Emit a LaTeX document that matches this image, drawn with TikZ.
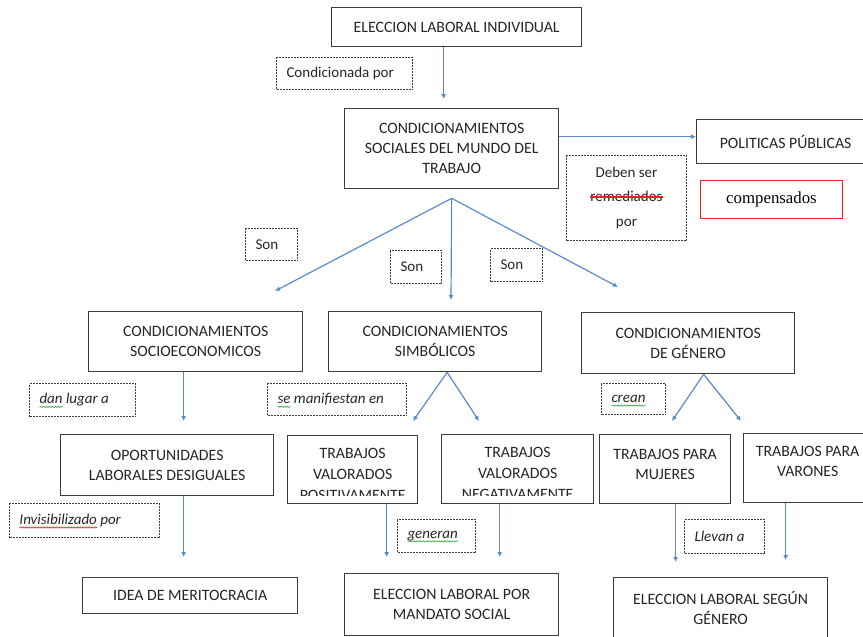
\documentclass[tikz,border=0pt]{standalone}
\usepackage{fontspec}
\setmainfont{Carlito}
\newfontfamily\serifa{Liberation Serif}
\usepackage{xcolor}
\usetikzlibrary{arrows.meta, positioning, decorations.pathmorphing}
\definecolor{Tinta}{HTML}{262626}
\definecolor{Trazo}{HTML}{3C3C3C}
\definecolor{Azul}{HTML}{5B8ACB}
\definecolor{Rojo}{HTML}{F01E1E}
\definecolor{Verde}{HTML}{3DAA4A}
\newsavebox{\palabra}
\newcommand{\tachado}[1]{\sbox{\palabra}{#1}\usebox{\palabra}\llap{\textcolor{Rojo}{\rule[0.27em]{\wd\palabra}{1.6pt}}}}
\newcommand{\marca}[2]{\sbox{\palabra}{#2}\usebox{\palabra}\llap{\tikz[baseline=0pt]{\useasboundingbox (0pt,0pt) rectangle (\wd\palabra,1pt); \draw[draw=#1, line width=0.7pt, decorate, decoration={snake, amplitude=0.6pt, segment length=3pt}] (0pt,-3pt) -- (\wd\palabra,-3pt);}}}
\tikzset{
  caja/.style={draw=Trazo, line width=1.3pt, fill=white, align=center, inner sep=2pt, text=Tinta, font=\fontsize{15.8}{20}\selectfont},
  etiq/.style={draw=Trazo, line width=1pt, dash pattern=on 2pt off 1pt, align=flush left, inner xsep=10pt, inner ysep=2pt, text=Tinta, font=\fontsize{15}{18}\selectfont},
  verbo/.style={etiq, font=\fontsize{15}{18}\selectfont\itshape},
  nota/.style={draw=Rojo, line width=1pt, text=black, font=\serifa\fontsize{16.8}{20}\selectfont},
  flecha/.style={-{Latex[length=5pt, width=5pt]}, draw=Azul, line width=1.2pt},
  cortado/.style={path picture={
    \clip ([yshift=8pt]path picture bounding box.south west) rectangle (path picture bounding box.north east);
    \node[inner sep=0pt, align=center, anchor=north, text=Tinta, font=\fontsize{15.8}{21}\selectfont] at ([yshift=-4pt]path picture bounding box.north) {#1};}},
}

\begin{document}
\begin{tikzpicture}[x=1pt, y=-1pt]
  \useasboundingbox (0,0) rectangle (863,637);

  % Top of the map
  \node[caja, minimum width=250pt, minimum height=39pt, anchor=north west] (elecc) at (331,7) {ELECCION LABORAL INDIVIDUAL};
  \node[etiq, text width=116pt, minimum height=32pt, anchor=north west] (condic) at (276,57) {Condicionada por};
  \node[caja, minimum width=214pt, minimum height=80pt, anchor=north west] (socmt) at (344,108) {CONDICIONAMIENTOS\\SOCIALES DEL MUNDO DEL\\TRABAJO};
  \draw[flecha, shorten >=9pt] ([xshift=-13pt]elecc.south) -- ([xshift=-13pt]elecc.south |- socmt.north);

  % Public policies
  \node[caja, minimum width=178pt, minimum height=44pt, anchor=north west] (polit) at (696,119) {POLITICAS PÚBLICAS};
  \draw[flecha] ([yshift=12pt]socmt.east) -- ([yshift=5pt]polit.west);
  \node[etiq, align=flush center, text width=100pt, minimum height=85pt, font=\fontsize{15}{24.5}\selectfont, anchor=north west] (deben) at (566,155) {Deben ser\\\tachado{remediados}\\por};
  \node[nota, minimum width=142pt, minimum height=38pt, anchor=north west] (compens) at (700,180) {compensados};

  % Three kinds of conditioning
  \coordinate (hub) at ([yshift=-9pt]socmt.south);
  \coordinate (pSocio) at (275,291);
  \coordinate (pSimb) at (451,300);
  \coordinate (pGener) at (618,287);
  \draw[flecha] (hub) -- (pSocio);
  \draw[flecha] (hub) -- (pSimb);
  \draw[flecha] (hub) -- (pGener);
  \node[etiq, text width=32pt, minimum height=32pt, anchor=north west] (son1) at (245,228) {Son};
  \node[etiq, text width=31pt, minimum height=33pt, anchor=north west] (son2) at (390,250) {Son};
  \node[etiq, text width=32pt, minimum height=33pt, anchor=north west] (son3) at (490,248) {Son};

  \node[caja, minimum width=214pt, minimum height=60pt, anchor=north west] (socio) at (88,311) {CONDICIONAMIENTOS\\SOCIOECONOMICOS};
  \node[caja, minimum width=213pt, minimum height=60pt, anchor=north west] (simb) at (328,311) {CONDICIONAMIENTOS\\SIMBÓLICOS};
  \node[caja, minimum width=213pt, minimum height=61pt, anchor=north west] (gener) at (581,312) {CONDICIONAMIENTOS\\DE GÉNERO};

  \node[verbo, text width=86pt, minimum height=33pt, anchor=north west] (danlug) at (29,383) {\marca{Verde}{dan} lugar a};
  \node[verbo, text width=119pt, minimum height=32pt, anchor=north west] (manif) at (267,383) {\marca{Verde}{se} manifiestan en};
  \node[verbo, text width=44pt, minimum height=31pt, anchor=north west] (crean) at (601,383) {\marca{Verde}{crean}};

  % Second level
  \node[caja, minimum width=213pt, minimum height=61pt, anchor=north west] (opor) at (60,434) {OPORTUNIDADES\\LABORALES DESIGUALES};
  \node[caja, cortado={TRABAJOS\\VALORADOS\\POSITIVAMENTE}, minimum width=130pt, minimum height=68pt, anchor=north west] (posit) at (287,435) {};
  \node[caja, cortado={TRABAJOS\\VALORADOS\\NEGATIVAMENTE}, minimum width=152pt, minimum height=69pt, anchor=north west] (negat) at (441,434) {};
  \node[caja, minimum width=131pt, minimum height=69pt, anchor=north west] (mujer) at (599,434) {TRABAJOS PARA\\MUJERES\\[-10pt]};
  \node[caja, minimum width=128pt, minimum height=69pt, anchor=north west] (varon) at (743,433) {TRABAJOS PARA\\VARONES\\[-6pt]};

  \draw[flecha, shorten >=13pt] ([xshift=-12pt]socio.south) -- ([xshift=-12pt]socio.south |- opor.north);
  \coordinate (vSimb) at ([xshift=12pt]simb.south);
  \coordinate (pPosit) at (413,421);
  \coordinate (pNegat) at (479,421);
  \draw[flecha] (vSimb) -- (pPosit);
  \draw[flecha] (vSimb) -- (pNegat);
  \coordinate (vGener) at ([xshift=15.5pt]gener.south);
  \coordinate (pMujer) at (672,421);
  \coordinate (pVaron) at (741,421);
  \draw[flecha] (vGener) -- (pMujer);
  \draw[flecha] (vGener) -- (pVaron);

  \node[verbo, text width=130pt, minimum height=34pt, anchor=north west] (invis) at (9,503) {\marca{Rojo}{Invisibilizado} por};
  \node[verbo, text width=58pt, minimum height=33pt, anchor=north west] (generan) at (397,519) {\marca{Verde}{generan}};
  \node[verbo, text width=60pt, minimum height=34pt, anchor=north west] (llevan) at (684,519) {Llevan a};

  % Bottom row
  \node[caja, minimum width=215pt, minimum height=36pt, anchor=north west] (merito) at (82,577) {IDEA DE MERITOCRACIA};
  \node[caja, minimum width=214pt, minimum height=62pt, anchor=north west] (mandato) at (344,573) {ELECCION LABORAL POR\\MANDATO SOCIAL};
  \node[caja, minimum width=214pt, minimum height=60pt, anchor=north west] (segun) at (613,577) {ELECCION LABORAL SEGÚN\\GÉNERO};

  \draw[flecha, shorten >=20pt] ([xshift=16.5pt]opor.south) -- ([xshift=16.5pt]opor.south |- merito.north);
  \draw[flecha, shorten >=16pt] ([xshift=34pt]posit.south) -- ([xshift=34pt]posit.south |- mandato.north);
  \draw[flecha, shorten >=16pt] ([xshift=-18pt]negat.south) -- ([xshift=-18pt]negat.south |- mandato.north);
  \draw[flecha, shorten >=15pt] ([xshift=10.5pt]mujer.south) -- ([xshift=10.5pt]mujer.south |- segun.north);
  \draw[flecha, shorten >=17pt] ([xshift=-22pt]varon.south) -- ([xshift=-22pt]varon.south |- segun.north);
\end{tikzpicture}
\end{document}
